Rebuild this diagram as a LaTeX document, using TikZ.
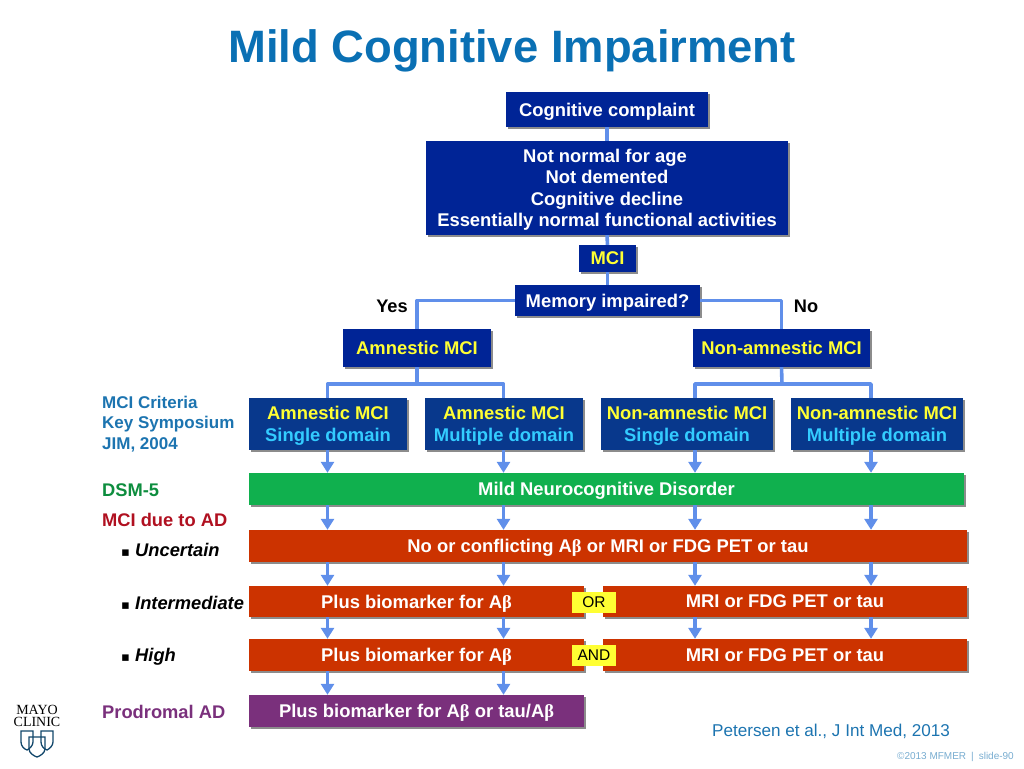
\documentclass[tikz,border=0pt]{standalone}
\usepackage{fontspec}
\setmainfont{Liberation Sans}
\newfontfamily\greekfont{Liberation Serif}
\newfontfamily\bulletfont{DejaVu Sans}
\usetikzlibrary{arrows.meta,shadows}
\definecolor{slideblue}{RGB}{0,36,150}
\definecolor{domainblue}{RGB}{8,56,140}
\definecolor{linkblue}{RGB}{96,143,234}
\definecolor{titleblue}{RGB}{10,112,180}
\definecolor{sideblue}{RGB}{28,116,176}
\definecolor{dsmgreen}{RGB}{16,176,78}
\definecolor{duered}{RGB}{204,51,0}
\definecolor{sidered}{RGB}{176,16,32}
\definecolor{prodpurple}{RGB}{122,48,124}
\definecolor{hiyellow}{RGB}{255,255,51}
\definecolor{hicyan}{RGB}{51,204,255}
\newcommand{\Abeta}{A{\greekfont\bfseries β}}
\newcommand{\sidebullet}{\makebox[14pt][l]{\bulletfont\fontsize{13}{13}\selectfont ▪}}
\tikzset{
  slidebox/.style={rectangle, inner sep=0pt, align=center, text=white, text depth=0pt, font=\fontsize{18.4}{21.5}\selectfont\bfseries,
    drop shadow={shadow xshift=2.2pt, shadow yshift=-2.2pt, fill=black!45, opacity=1}},
  bluebox/.style={slidebox, fill=slideblue},
  domainbox/.style={slidebox, fill=domainblue, font=\fontsize{18.4}{22}\selectfont\bfseries},
  redbox/.style={slidebox, fill=duered},
  sidelabel/.style={anchor=west, inner sep=0pt, font=\fontsize{18.3}{20.5}\selectfont\bfseries, align=left},
  tagbox/.style={fill=hiyellow, inner sep=0pt, text=black, font=\fontsize{15.5}{16}\selectfont},
  link/.style={line width=3.6pt, linkblue},
  flow/.style={line width=3.6pt, linkblue, -{Triangle[width=13pt,length=11pt]}}
}
\begin{document}
\begin{tikzpicture}[x=1pt, y=-1pt]
  \useasboundingbox (0,0) rectangle (1024,768);

  % Title
  \node[text=titleblue, font=\fontsize{45.4}{46}\selectfont\bfseries] (title) at (512,51) {Mild Cognitive Impairment};

  % Columns and bars of the tree
  \coordinate (c1) at (327.5,0);
  \coordinate (c2) at (503.5,0);
  \coordinate (c3) at (695,0);
  \coordinate (c4) at (871,0);
  \coordinate (barleft) at (417,384);
  \coordinate (barright) at (782,384);

  % Upper tree
  \node[bluebox, minimum width=202pt, minimum height=35pt] (complaint) at (607,109.5) {Cognitive complaint};
  \node[bluebox, minimum width=362pt, minimum height=94pt] (criteria) at (607,188) {Not normal for age\hspace*{4pt}\\Not demented\\Cognitive decline\hspace*{6pt}\\Essentially normal functional activities};
  \node[bluebox, minimum width=57pt, minimum height=27pt, text=hiyellow] (mci) at (607.5,258.5) {MCI};
  \node[bluebox, minimum width=185pt, minimum height=31pt] (memory) at (607.5,300.5) {Memory impaired?};
  \node[bluebox, minimum width=148pt, minimum height=38pt, text=hiyellow] (amnestic) at (417,348) {Amnestic MCI};
  \node[bluebox, minimum width=177pt, minimum height=38pt, text=hiyellow] (nonamnestic) at (781.5,348) {Non-amnestic MCI};
  \node[font=\fontsize{18.2}{18}\selectfont\bfseries] (yes) at (392,306) {Yes};
  \node[font=\fontsize{18.2}{18}\selectfont\bfseries] (no) at (806,306) {No};

  % Domain boxes
  \node[domainbox, minimum width=158pt, minimum height=52pt] (amsingle) at (328,424) {\textcolor{hiyellow}{Amnestic MCI}\\\textcolor{hicyan}{Single domain}};
  \node[domainbox, minimum width=158pt, minimum height=52pt] (ammultiple) at (504,424) {\textcolor{hiyellow}{Amnestic MCI}\\\textcolor{hicyan}{Multiple domain}};
  \node[domainbox, minimum width=172pt, minimum height=52pt] (nonsingle) at (687,424) {\textcolor{hiyellow}{Non-amnestic MCI}\\\textcolor{hicyan}{Single domain}};
  \node[domainbox, minimum width=172pt, minimum height=52pt] (nonmultiple) at (877,424) {\textcolor{hiyellow}{Non-amnestic MCI}\\\textcolor{hicyan}{Multiple domain}};

  % Bars
  \node[slidebox, fill=dsmgreen, minimum width=715pt, minimum height=32pt] (dsm) at (606.5,489) {Mild Neurocognitive Disorder};
  \node[redbox, minimum width=718pt, minimum height=32pt] (uncertain) at (608,546) {No or conflicting \Abeta{} or MRI or FDG PET or tau};
  \node[redbox, minimum width=335pt, minimum height=31pt] (interleft) at (416.5,601.5) {Plus biomarker for \Abeta};
  \node[redbox, minimum width=364pt, minimum height=31pt] (interright) at (785,601.5) {MRI or FDG PET or tau};
  \node[redbox, minimum width=335pt, minimum height=32pt] (highleft) at (416.5,655) {Plus biomarker for \Abeta};
  \node[redbox, minimum width=364pt, minimum height=32pt] (highright) at (785,655) {MRI or FDG PET or tau};
  \node[slidebox, fill=prodpurple, minimum width=335pt, minimum height=32pt] (prodromal) at (416.5,711) {Plus biomarker for \Abeta{} or tau/\Abeta};
  \node[tagbox, minimum width=44pt, minimum height=21pt] (ortag) at (594,602.5) {OR};
  \node[tagbox, minimum width=44pt, minimum height=21pt] (andtag) at (594,655.5) {AND};

  % Tree links
  \draw[link] (complaint.south) -- (criteria.north);
  \draw[link] (criteria.south) -- (mci.north);
  \draw[link] (mci.south) -- (memory.north);
  \draw[link, line join=round] (memory.west) -| (amnestic.north);
  \draw[link, line join=round] (memory.east) -| (nonamnestic.north);
  \draw[link] (amnestic.south) -- (barleft);
  \draw[link] (nonamnestic.south) -- (barright);
  \draw[link, line join=round] (amsingle.north -| c1) |- (barleft) -| (ammultiple.north -| c2);
  \draw[link, line join=round] (nonsingle.north -| c3) |- (barright) -| (nonmultiple.north -| c4);

  % Column 1
  \draw[flow] (amsingle.south -| c1) -- (dsm.north -| c1);
  \draw[flow] (dsm.south -| c1) -- (uncertain.north -| c1);
  \draw[flow] (uncertain.south -| c1) -- (interleft.north -| c1);
  \draw[flow] (interleft.south -| c1) -- (highleft.north -| c1);
  \draw[flow] (highleft.south -| c1) -- (prodromal.north -| c1);
  % Column 2
  \draw[flow] (ammultiple.south -| c2) -- (dsm.north -| c2);
  \draw[flow] (dsm.south -| c2) -- (uncertain.north -| c2);
  \draw[flow] (uncertain.south -| c2) -- (interleft.north -| c2);
  \draw[flow] (interleft.south -| c2) -- (highleft.north -| c2);
  \draw[flow] (highleft.south -| c2) -- (prodromal.north -| c2);
  % Column 3
  \draw[flow] (nonsingle.south -| c3) -- (dsm.north -| c3);
  \draw[flow] (dsm.south -| c3) -- (uncertain.north -| c3);
  \draw[flow] (uncertain.south -| c3) -- (interright.north -| c3);
  \draw[flow] (interright.south -| c3) -- (highright.north -| c3);
  % Column 4
  \draw[flow] (nonmultiple.south -| c4) -- (dsm.north -| c4);
  \draw[flow] (dsm.south -| c4) -- (uncertain.north -| c4);
  \draw[flow] (uncertain.south -| c4) -- (interright.north -| c4);
  \draw[flow] (interright.south -| c4) -- (highright.north -| c4);

  % Side labels
  \node[sidelabel, text=sideblue, font=\fontsize{17}{20.5}\selectfont\bfseries] (keysymp) at (102,424) {MCI Criteria\\Key Symposium\\JIM, 2004};
  \node[sidelabel, text=dsmgreen!80!black] (dsmlabel) at (102,490) {DSM-5};
  \node[sidelabel, text=sidered] (duelabel) at (102,520) {MCI due to AD};
  \node[sidelabel] (uncertainlabel) at (121,550) {\sidebullet\itshape Uncertain};
  \node[sidelabel] (interlabel) at (121,603) {\sidebullet\itshape Intermediate};
  \node[sidelabel] (highlabel) at (121,657) {\sidebullet\itshape High};
  \node[sidelabel, text=prodpurple] (prodlabel) at (102,712) {Prodromal AD};

  % Citation and footer
  \node[anchor=west, inner sep=0pt, text=sideblue, font=\fontsize{17.1}{17}\selectfont] (source) at (712,731) {Petersen et al., J Int Med, 2013};
  \node[anchor=east, inner sep=0pt, text=sideblue!60, font=\fontsize{10}{10}\selectfont] (footer) at (1014,757) {©2013 MFMER\enspace|\enspace slide-90};

  % Logo
  \node[inner sep=0pt, font=\greekfont\fontsize{14}{12}\selectfont, align=center] (logotext) at (37,716) {MAYO\\CLINIC};
  \draw[sideblue!60!black, line width=1.3pt] (21,731) -- (33,731) -- (33,742) .. controls (33,746) and (29,749) .. (27,750) .. controls (24,749) and (21,746) .. (21,742) -- cycle;
  \draw[sideblue!60!black, line width=1.3pt] (41,731) -- (53,731) -- (53,742) .. controls (53,746) and (49,749) .. (47,750) .. controls (44,749) and (41,746) .. (41,742) -- cycle;
  \draw[sideblue!60!black, line width=1.3pt] (29,737) -- (45,737) -- (45,749) .. controls (45,753) and (40,756) .. (37,757) .. controls (34,756) and (29,753) .. (29,749) -- cycle;
\end{tikzpicture}
\end{document}
